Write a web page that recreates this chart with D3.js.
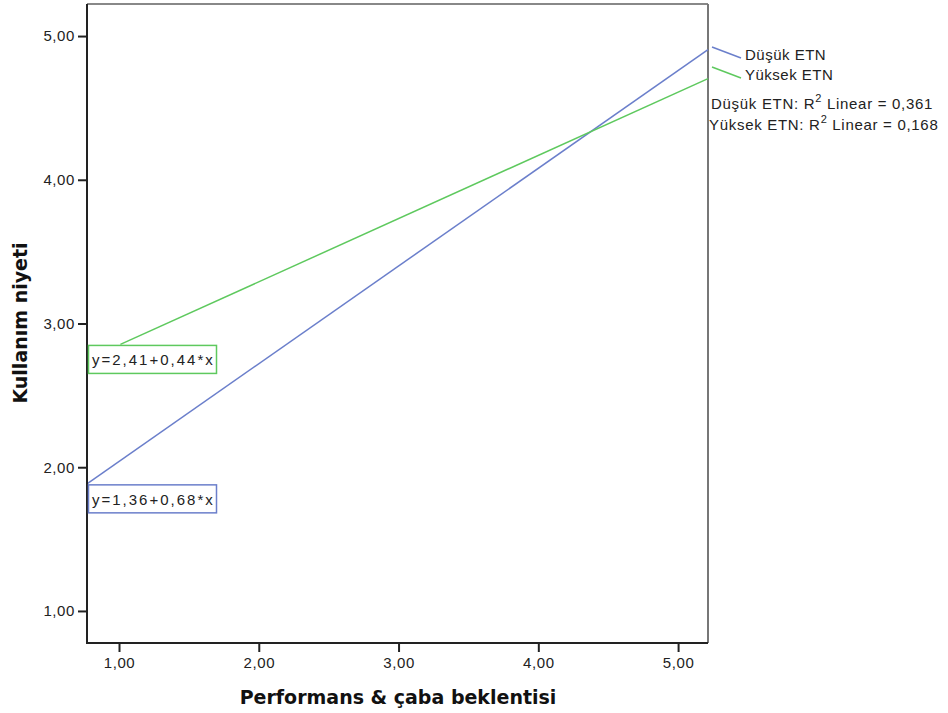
<!DOCTYPE html>
<html><head><meta charset="utf-8">
<script src="https://cdn.jsdelivr.net/npm/d3@7"></script>
<style>body{margin:0;background:#fff}svg{display:block}</style>
</head><body><svg id="c" width="948" height="713"></svg>
<script>
const xTicks = [1, 2, 3, 4, 5];
const yTicks = [1, 2, 3, 4, 5];
const seriesNames = ["Düşük ETN", "Yüksek ETN"];
const intercepts = [1.36, 2.41];
const slopes = [0.68, 0.44];
const xStart = [0.771, 1.01];
const xEnd = [5.214, 5.214];
const r2 = ["0,361", "0,168"];
const eqLabels = ["y=1,36+0,68*x", "y=2,41+0,44*x"];
const colors = ["#6b7fcb", "#5ec95e"];

const svg = d3.select("#c");
const L = 87, R = 708, T = 4, B = 643;
const x = d3.scaleLinear().domain([0.771, 5.214]).range([L, R]);
const y = d3.scaleLinear().domain([0.777, 5.223]).range([B, T]);
const fmt = d => d3.format(".2f")(d).replace(".", ",");
const font = "'Liberation Sans', Arial, sans-serif";

// frame
svg.append("line").attr("x1", L).attr("x2", R).attr("y1", T).attr("y2", T).attr("stroke", "#888").attr("stroke-width", 2);
svg.append("line").attr("x1", R).attr("x2", R).attr("y1", T).attr("y2", B).attr("stroke", "#777").attr("stroke-width", 2);

// fit lines
seriesNames.forEach((s, i) => {
  const f = v => intercepts[i] + slopes[i] * v;
  svg.append("line")
    .attr("x1", x(xStart[i])).attr("y1", y(f(xStart[i])))
    .attr("x2", x(xEnd[i])).attr("y2", y(f(xEnd[i])))
    .attr("stroke", colors[i]).attr("stroke-width", 1.5);
});

// axes
const gx = svg.append("g").attr("transform", `translate(0,${B})`)
  .call(d3.axisBottom(x).tickValues(xTicks).tickFormat(fmt).tickSizeOuter(0).tickSize(9).tickPadding(4));
const gy = svg.append("g").attr("transform", `translate(${L},0)`)
  .call(d3.axisLeft(y).tickValues(yTicks).tickFormat(fmt).tickSizeOuter(0).tickSize(9).tickPadding(3));
[gx, gy].forEach(g => {
  g.attr("font-size", 15).attr("font-family", font);
  g.select(".domain").attr("stroke", "#222").attr("stroke-width", 2);
  g.selectAll(".tick line").attr("stroke", "#222").attr("stroke-width", 2);
  g.selectAll("text").style("font-family", font).style("font-size", "15px").style("letter-spacing", "0.6px").attr("fill", "#222");
});
gx.selectAll("text").attr("dy", "0.8em");
// full-length axis lines
gx.select(".domain").attr("d", `M${L-1},0H${R}`);
gy.select(".domain").attr("d", `M0,${T}V${B+1}`);

// equation labels
const eqY = [y(1.36 + 0.68 * 0.771) + 15, y(2.41 + 0.44 * 1.01) + 15];
seriesNames.forEach((s, i) => {
  const cy = eqY[i];
  svg.append("rect").attr("x", 88.5).attr("y", cy - 14).attr("width", 128).attr("height", 28)
    .attr("fill", "#fff").attr("stroke", colors[i]).attr("stroke-width", 1.5);
  svg.append("text").attr("x", 92).attr("y", cy + 6).style("font-family", font).style("font-size", "15px")
    .style("letter-spacing", "2px").attr("fill", "#222").text(eqLabels[i]);
});

// legend
const legY = [53, 73];
seriesNames.forEach((s, i) => {
  svg.append("line").attr("x1", 712).attr("y1", legY[i] - 6).attr("x2", 741).attr("y2", legY[i] + 5)
    .attr("stroke", colors[i]).attr("stroke-width", 1.5);
  svg.append("text").attr("x", 745).attr("y", legY[i] + 7).style("font-family", font).style("font-size", "15px")
    .style("letter-spacing", "0.5px").attr("fill", "#222").text(s);
});
const r2Y = [109, 130];
const r2X = [711, 709];
seriesNames.forEach((s, i) => {
  const t = svg.append("text").attr("x", r2X[i]).attr("y", r2Y[i]).style("font-family", font).style("font-size", "15px")
    .style("letter-spacing", "0.7px").attr("fill", "#222");
  t.append("tspan").text(s + ": R");
  t.append("tspan").attr("dy", -7).style("font-size", "11px").text("2");
  t.append("tspan").attr("dy", 7).text(" Linear = " + r2[i]);
});

// titles
svg.append("text").attr("x", 398).attr("y", 704).attr("text-anchor", "middle")
  .style("font-family", "'DejaVu Sans', sans-serif").style("font-weight", "bold").style("font-size", "19px")
  .attr("fill", "#111").text("Performans & çaba beklentisi");
svg.append("text").attr("transform", "translate(27,323) rotate(-90)").attr("text-anchor", "middle")
  .style("font-family", "'DejaVu Sans', sans-serif").style("font-weight", "bold").style("font-size", "19px")
  .attr("fill", "#111").text("Kullanım niyeti");
</script></body></html>
